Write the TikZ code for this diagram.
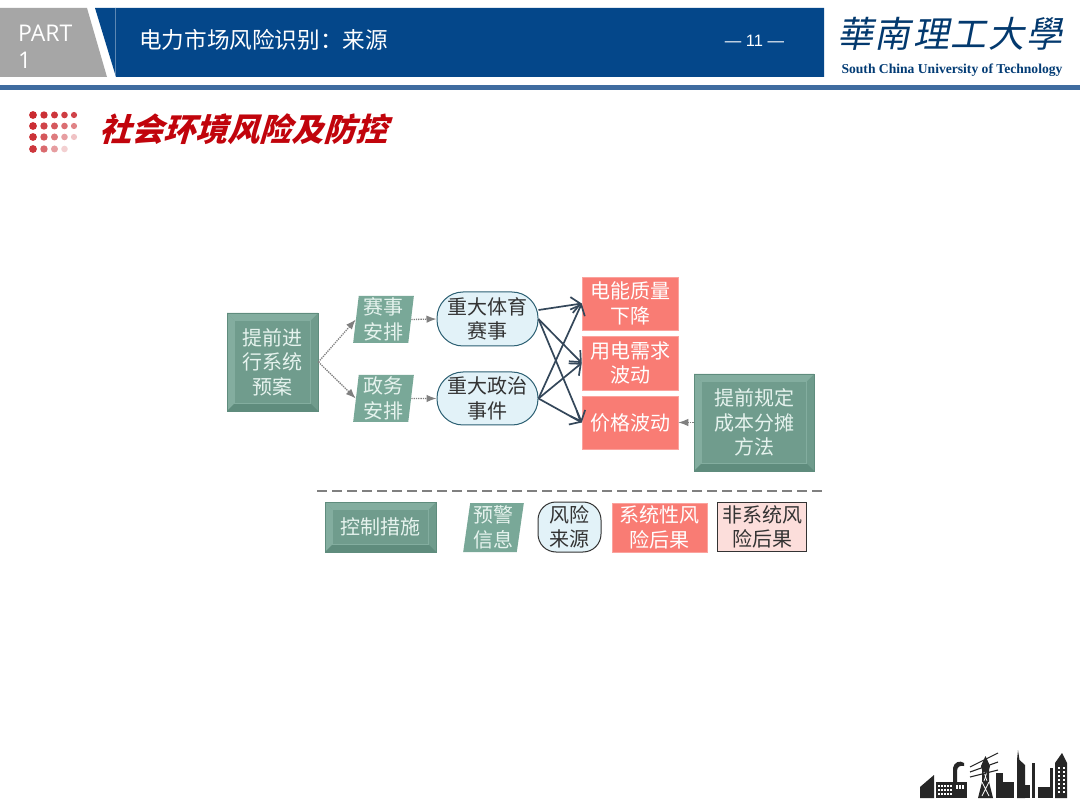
\documentclass[tikz,border=0pt]{standalone}
\usepackage{fontspec}
\setmainfont{Noto Sans CJK SC}
\newfontfamily\latinfont{Open Sans}
\newfontfamily\sansfont{Liberation Sans}
\newfontfamily\slantfont[FakeSlant=0.3,BoldFont={Noto Sans CJK SC Black}]{Noto Sans CJK SC}
\newfontfamily\logofont[FakeSlant=0.2]{Noto Sans CJK TC}
\newfontfamily\serifbold{Liberation Serif}
\usetikzlibrary{arrows.meta,shapes.geometric}
\definecolor{barblue}{HTML}{04478A}
\definecolor{rulblue}{HTML}{3F6CA0}
\definecolor{bargray}{HTML}{A6A6A6}
\definecolor{ctrlgreen}{HTML}{709C8D}
\definecolor{ctrlband}{HTML}{6F9B8C}
\definecolor{ctrldark}{HTML}{5F8C7D}
\definecolor{ctrllite}{HTML}{83AD9F}
\definecolor{ctrltext}{HTML}{E6F3EE}
\definecolor{infogreen}{HTML}{79A898}
\definecolor{srcfill}{HTML}{E2F2F8}
\definecolor{srcline}{HTML}{2C6073}
\definecolor{sysred}{HTML}{F97C74}
\definecolor{nonsys}{HTML}{FCDEDB}
\definecolor{arrowdark}{HTML}{34475A}
\definecolor{titlered}{HTML}{C1040C}
\definecolor{inkdark}{HTML}{333333}
\begin{document}
\begin{tikzpicture}[x=1pt,y=-1pt]
\def\sepw{7.5pt}
\tikzset{
	txt/.style={font=\fontsize{20pt}{24.5pt}\selectfont,align=center,inner sep=0pt},
	ctrl block/.style={
		txt,draw=ctrldark,fill=ctrlband,text=ctrltext,line width=.8pt,
		path picture={
			\fill[ctrllite] (path picture bounding box.north west)
				-- (path picture bounding box.north east)
				-- ([xshift=-\sepw,yshift=-\sepw]path picture bounding box.north east)
				-- ([xshift=\sepw,yshift=-\sepw]path picture bounding box.north west) -- cycle;
			\fill[ctrllite] (path picture bounding box.north west)
				-- (path picture bounding box.south west)
				-- ([xshift=\sepw,yshift=\sepw]path picture bounding box.south west)
				-- ([xshift=\sepw,yshift=-\sepw]path picture bounding box.north west) -- cycle;
			\fill[ctrldark] (path picture bounding box.south west)
				-- (path picture bounding box.south east)
				-- ([xshift=-\sepw,yshift=\sepw]path picture bounding box.south east)
				-- ([xshift=\sepw,yshift=\sepw]path picture bounding box.south west) -- cycle;
			\filldraw[fill=ctrlgreen,draw=ctrllite,line width=.6pt]
				([xshift=\sepw,yshift=-\sepw]path picture bounding box.north west) rectangle
				([xshift=-\sepw,yshift=\sepw]path picture bounding box.south east);
		}},
	info block/.style={
		txt,trapezium,trapezium stretches=true,trapezium left angle=84,trapezium right angle=96,
		fill=infogreen,text=ctrltext},
	src block/.style={txt,draw=srcline,fill=srcfill,text=inkdark,line width=1pt,rounded corners=26pt},
	sys block/.style={txt,fill=sysred,text=white,draw=sysred!70!white,line width=.5pt},
	risk arrow/.style={draw=arrowdark,line width=1.7pt,-{Straight Barb[length=9pt,width=16pt,line width=1.7pt]}},
	ctrl arrow/.style={draw=gray,line width=1.3pt,densely dotted,-{Latex[length=10pt,width=7.5pt]}},
	shop/.style={fill=black!85}
}
\useasboundingbox (0,0) rectangle (1080,810);
\fill[white] (0,0) rectangle (1080,810);
% header bar
\fill[bargray] (0,8) -- (87,8) -- (107,77) -- (0,77) -- cycle;
\fill[barblue] (95,8) -- (824,8) -- (824,77) -- (116,77) -- cycle;
\draw[barblue!65!white,line width=.5pt] (115.5,8) -- (115.5,75);
\fill[rulblue] (0,85) rectangle (1080,90);
\node[anchor=west,text=white,inner sep=0pt,align=left,font=\latinfont\fontsize{23pt}{27pt}\selectfont] (part) at (18,47) {PART\\1};
\node[anchor=west,text=white,inner sep=0pt,font=\fontsize{22.6pt}{26pt}\selectfont] (head) at (139,40) {电力市场风险识别：来源};
\node[text=white,inner sep=0pt,font=\sansfont\fontsize{16.5pt}{20pt}\selectfont] (page) at (754.5,41) {— 11 —};
% logo
\node[text=barblue!80!black,inner sep=0pt,font=\logofont\fontsize{36pt}{40pt}\selectfont] (logo) at (950,34) {華\hspace{2pt}南\hspace{2pt}理\hspace{2pt}工\hspace{2pt}大\hspace{2pt}學};
\node[text=barblue!85!black,inner sep=0pt,font=\serifbold\bfseries\fontsize{13.6pt}{15pt}\selectfont] (school) at (952,70.5) {South China University of Technology};
% dots and title
\foreach \y [count=\j from 0] in {115,126,137,149}
	\foreach \x [count=\i from 0] in {33,44,54.5,64.5,74}
		\fill[titlered!85!white,opacity={max(0,1-\i*\j*.07-\i*.03-\j*.02)}] (\x,\y) circle ({3.9-\i*.2});
\node[anchor=west,text=titlered,inner sep=0pt,font=\slantfont\bfseries\fontsize{32pt}{36pt}\selectfont] (title) at (99,129) {社会环境风险及防控};
% diagram
\node[ctrl block,minimum width=91pt,minimum height=98pt] (plan) at (272.5,362) {提前进\\行系统\\预案};
\node[info block,minimum width=61pt,minimum height=47pt] (match) at (383.5,319.5) {赛事\\安排};
\node[info block,minimum width=61pt,minimum height=47pt] (duty) at (383.5,398.5) {政务\\安排};
\node[src block,minimum width=101pt,minimum height=54pt] (sport) at (487.5,319) {重大体育\\赛事};
\node[src block,minimum width=101pt,minimum height=53pt] (polit) at (487.5,398.5) {重大政治\\事件};
\node[sys block,minimum width=96pt,minimum height=53pt] (power) at (630,303.5) {电能质量\\下降};
\node[sys block,minimum width=96pt,minimum height=54pt] (demand) at (630,363) {用电需求\\波动};
\node[sys block,minimum width=96pt,minimum height=53pt] (price) at (630,422.5) {价格波动};
\node[ctrl block,minimum width=120pt,minimum height=97pt] (share) at (754,422.5) {提前规定\\成本分摊\\方法};
% connectors
\foreach \from/\to in {plan.east/match.west,plan.east/duty.west,match.east/sport.west,duty.east/polit.west,share.west/price.east}
	\draw[ctrl arrow] (\from) -- (\to);
\draw[risk arrow] (sport.10) -- (power.west);
\foreach \from/\to in {sport/demand,sport/price,polit/power,polit/demand,polit/price}
	\draw[risk arrow] (\from.east) -- (\to.west);
% legend
\coordinate (sepl) at (317,491);
\coordinate (sepr) at (823,491);
\draw[gray,line width=1.2pt,dash pattern=on 10pt off 5pt] (sepl) -- (sepr);
\node[ctrl block,minimum width=111pt,minimum height=50pt] (legctrl) at (380.5,527) {控制措施};
\node[info block,trapezium left angle=82,trapezium right angle=98,minimum width=61pt,minimum height=49pt] (leginfo) at (493.5,527.5) {预警\\信息};
\node[src block,draw=inkdark,rounded corners=18pt,minimum width=63pt,minimum height=50pt] (legsrc) at (569.5,527) {风险\\来源};
\node[sys block,minimum width=95pt,minimum height=49pt] (legsys) at (659.5,527.5) {系统性风\\险后果};
\node[txt,draw=inkdark,fill=nonsys,text=inkdark,line width=1.2pt,minimum width=89pt,minimum height=49pt] (legnon) at (762,527) {非系统风\\险后果};
% factory strip
\fill[shop] (920,798) -- (920,787) -- (934,775) -- (934,798) -- cycle;
\fill[shop] (936,782) rectangle (967,798);
\fill[shop] (953,782) -- (953,768) .. controls (954,762) and (960,760) .. (964,763) -- (964,766) .. controls (960,765) and (957,767) .. (957,771) -- (957,782) -- cycle;
\foreach \y in {785,789,793}
	\foreach \x in {938,941,944,947,950}
		\fill[white] (\x,\y) rectangle +(1.6,1.6);
\foreach \x in {956,959,962}
	\fill[white] (\x,785) rectangle +(1.6,4);
\fill[shop] (978,798) -- (982,782) -- (982,770) -- (981,766) -- (985.5,756) -- (990,766) -- (989,770) -- (989,782) -- (993,798) -- cycle;
\draw[white,line width=.7pt] (982,796) -- (989,782) (989,796) -- (982,782) (984,781) -- (987,772) (987,781) -- (984,772);
\foreach \a/\b in {767/753,772/762,777/770}
	\draw[black!85,line width=1.1pt] (970,\a) -- (998,\b);
\fill[shop] (996,773) rectangle (1003,798);
\fill[shop] (1003,782) rectangle (1014,798);
\fill[shop] (1017,798) -- (1017,760) -- (1018,750) -- (1019.5,760) -- (1025,765) -- (1025,798) -- cycle;
\fill[shop] (1025,785) rectangle (1030,798);
\fill[shop] (1032,798) rectangle (1034.5,763);
\fill[shop] (1038,787) rectangle (1050,798);
\fill[shop] (1050,768) rectangle (1053,798);
\fill[shop] (1055,798) -- (1055,763) -- (1062,753) -- (1067,763) -- (1067,798) -- cycle;
\foreach \y in {767,771,775,779,783,787,791}
	\foreach \x in {1058,1062.5}
		\fill[white] (\x,\y) rectangle +(2.4,2);
\end{tikzpicture}
\end{document}
